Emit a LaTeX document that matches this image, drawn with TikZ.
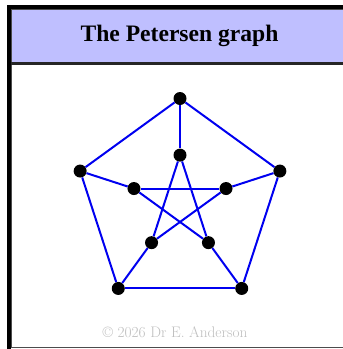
\documentclass[tikz,border=0pt]{standalone}
\usepackage{fontspec}
\newfontfamily\titlefont{Liberation Serif}
\definecolor{hdrblue}{RGB}{191,191,255}
\definecolor{edgeblue}{RGB}{0,0,240}
\usetikzlibrary{calc}

\begin{document}
\begin{tikzpicture}[x=1pt, y=1pt,
  vtx/.style={circle, fill=black, inner sep=0pt, minimum size=13pt},
  edge/.style={draw=edgeblue, line width=2pt},
  ttl/.style={anchor=base, font=\titlefont\fontsize{23.6}{28}\selectfont\bfseries},
  credit/.style={anchor=base, text=black!25, font=\fontsize{15.3}{18}\selectfont}
]
\useasboundingbox (0,0) rectangle (343,-349);
\clip (0,0) rectangle (343,-349);

% Frame and header band
\fill[white] (11.5,-9.5) rectangle (350,-347);
\fill[hdrblue] (11.5,-9.5) rectangle (350,-63);
\draw[black!70, line width=0.8pt] (11.5,-9.5) rectangle (350,-347);
\draw[black!85, line width=2.5pt] (11,-63.5) -- (350,-63.5);
\draw[black, line width=4pt] (9,-352) -- (9,-6.5) -- (350,-6.5);

\node[ttl] (title) at (179.5,-41.7) {The Petersen graph};

% Vertices
\coordinate (c) at (180,-203.5);
\node[vtx] (o1) at ($(c)+(90:105)$)  {};
\node[vtx] (o2) at ($(c)+(162:105)$) {};
\node[vtx] (o3) at ($(c)+(234:105)$) {};
\node[vtx] (o4) at ($(c)+(306:105)$) {};
\node[vtx] (o5) at ($(c)+(18:105)$)  {};

\node[vtx] (i1) at ($(c)+(90:48.4)$)  {};
\node[vtx] (i2) at ($(c)+(162:48.4)$) {};
\node[vtx] (i3) at ($(c)+(234:48.4)$) {};
\node[vtx] (i4) at ($(c)+(306:48.4)$) {};
\node[vtx] (i5) at ($(c)+(18:48.4)$)  {};

% Outer pentagon
\draw[edge] (o1) -- (o2);
\draw[edge] (o2) -- (o3);
\draw[edge] (o3) -- (o4);
\draw[edge] (o4) -- (o5);
\draw[edge] (o5) -- (o1);

% Spokes
\draw[edge] (o1) -- (i1);
\draw[edge] (o2) -- (i2);
\draw[edge] (o3) -- (i3);
\draw[edge] (o4) -- (i4);
\draw[edge] (o5) -- (i5);

% Inner pentagram
\draw[edge] (i1) -- (i3);
\draw[edge] (i3) -- (i5);
\draw[edge] (i5) -- (i2);
\draw[edge] (i2) -- (i4);
\draw[edge] (i4) -- (i1);

\node[credit] (copy) at (175,-337.3) {\textcopyright\ 2026 Dr E. Anderson};
\end{tikzpicture}
\end{document}
